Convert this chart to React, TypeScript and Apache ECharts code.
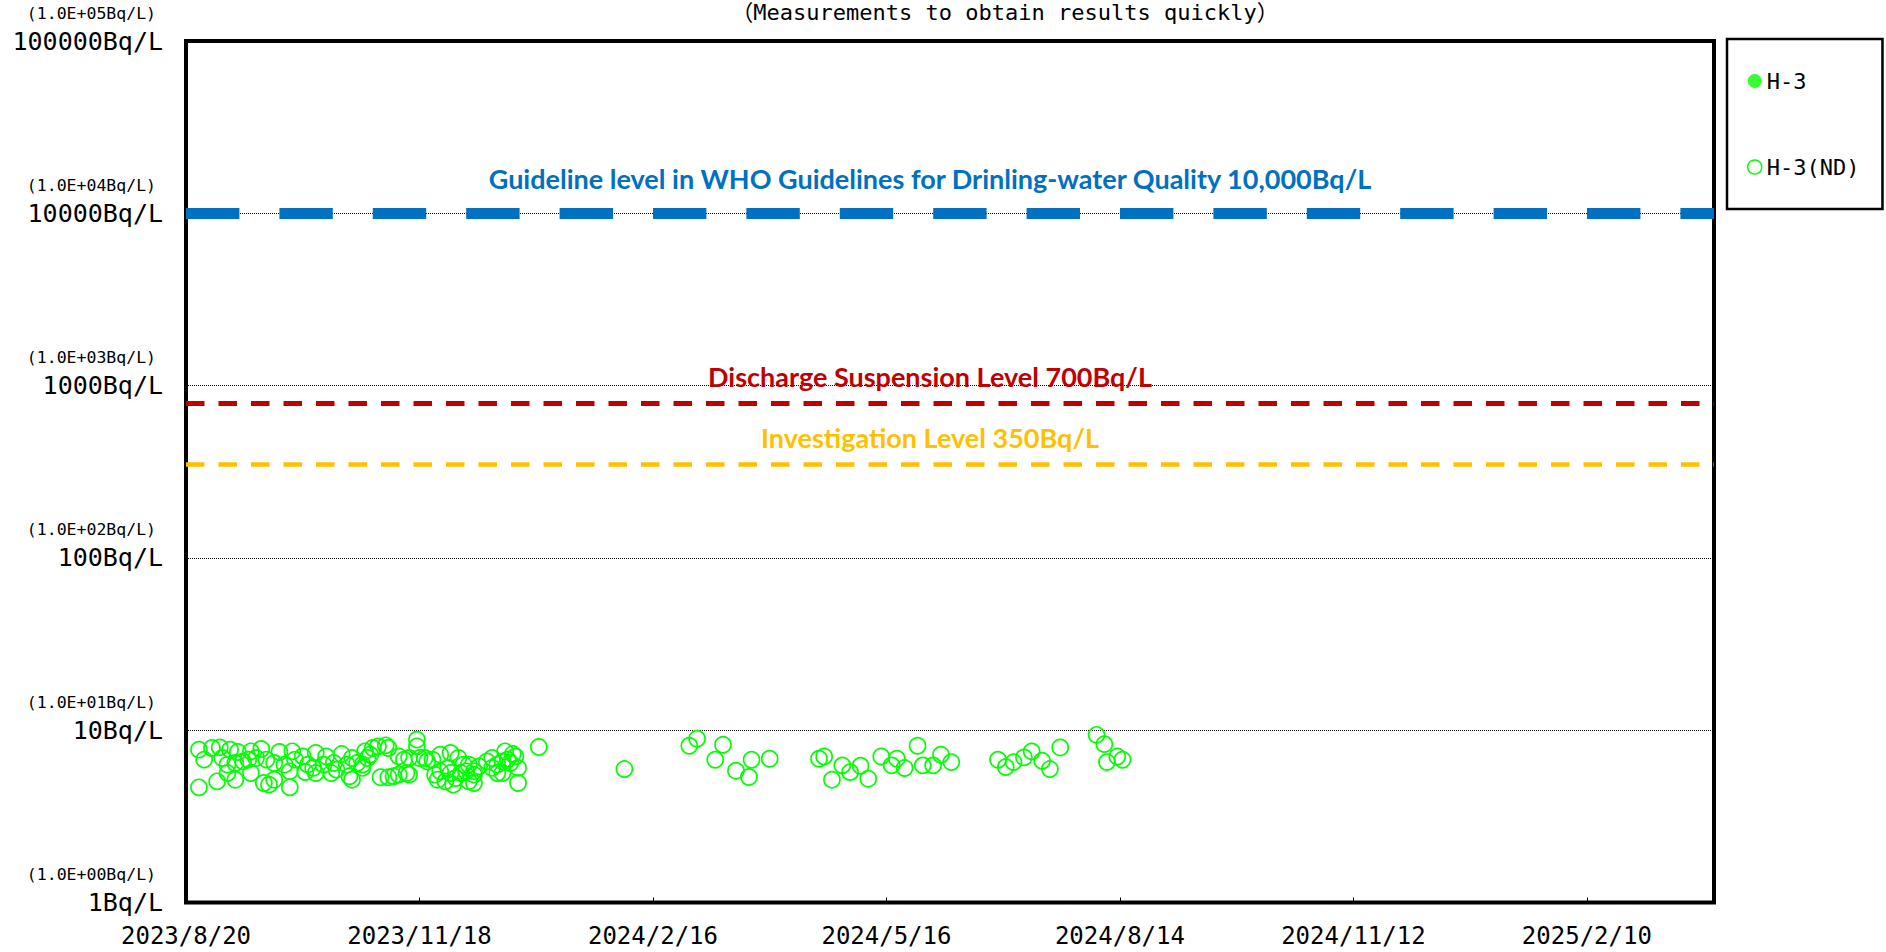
import React, { useEffect, useRef } from 'react';
import * as echarts from 'echarts';

// ---------- data ----------
const BASE_DATE = '2023/8/20';
const X_MAX_DATE = '2025/3/31';
const X_TICK_DAYS = 90;

const Y_MIN = 1;
const Y_MAX = 100000;

const titleText = '（Measurements to obtain results quickly）';

const seriesNames = ['H-3', 'H-3(ND)'];

// detected values (none in this period)
const h3Dates: string[] = [];
const h3Values: number[] = [];

// ND (below detection limit) values
const h3NdDates: string[] = [
  '2023/8/25', '2023/8/25', '2023/8/27', '2023/8/30', '2023/9/1', '2023/9/2', '2023/9/3', '2023/9/5',
  '2023/9/5', '2023/9/6', '2023/9/8', '2023/9/8', '2023/9/9', '2023/9/11', '2023/9/13', '2023/9/14',
  '2023/9/14', '2023/9/16', '2023/9/18', '2023/9/19', '2023/9/20', '2023/9/21', '2023/9/23', '2023/9/23',
  '2023/9/25', '2023/9/27', '2023/9/29', '2023/9/29', '2023/9/30', '2023/10/1', '2023/10/4', '2023/10/5',
  '2023/10/6', '2023/10/8', '2023/10/9', '2023/10/9', '2023/10/12', '2023/10/13', '2023/10/15', '2023/10/16',
  '2023/10/17', '2023/10/19', '2023/10/21', '2023/10/22', '2023/10/23', '2023/10/23', '2023/10/25', '2023/10/27',
  '2023/10/27', '2023/10/28', '2023/10/29', '2023/10/30', '2023/10/31', '2023/11/2', '2023/11/3', '2023/11/5',
  '2023/11/6', '2023/11/6', '2023/11/8', '2023/11/10', '2023/11/10', '2023/11/12', '2023/11/13', '2023/11/14',
  '2023/11/14', '2023/11/17', '2023/11/17', '2023/11/18', '2023/11/20', '2023/11/21', '2023/11/23', '2023/11/24',
  '2023/11/25', '2023/11/26', '2023/11/26', '2023/11/28', '2023/11/29', '2023/11/30', '2023/11/30', '2023/12/1',
  '2023/12/2', '2023/12/3', '2023/12/4', '2023/12/5', '2023/12/6', '2023/12/7', '2023/12/7', '2023/12/9',
  '2023/12/9', '2023/12/9', '2023/12/11', '2023/12/14', '2023/12/16', '2023/12/16', '2023/12/18', '2023/12/18',
  '2023/12/20', '2023/12/20', '2023/12/21', '2023/12/22', '2023/12/23', '2023/12/24', '2023/12/25', '2023/12/26',
  '2023/12/26', '2024/1/3', '2024/2/5', '2024/3/1', '2024/3/4', '2024/3/11', '2024/3/14', '2024/3/19',
  '2024/3/24', '2024/3/25', '2024/4/1', '2024/4/20', '2024/4/22', '2024/4/25', '2024/4/29', '2024/5/2',
  '2024/5/6', '2024/5/9', '2024/5/14', '2024/5/18', '2024/5/20', '2024/5/23', '2024/5/28', '2024/5/30',
  '2024/6/3', '2024/6/6', '2024/6/10', '2024/6/28', '2024/7/1', '2024/7/4', '2024/7/8', '2024/7/11',
  '2024/7/15', '2024/7/18', '2024/7/22', '2024/8/5', '2024/8/8', '2024/8/9', '2024/8/13', '2024/8/15',
];
const h3NdValues: number[] = [
  7.71, 4.66, 6.75, 7.88, 5.05, 7.95, 6.90, 6.31,
  5.64, 7.71, 5.16, 6.45, 7.47, 6.59, 6.75, 5.64,
  7.54, 6.90, 7.78, 4.94, 6.75, 4.83, 6.45, 5.16,
  7.47, 6.31, 5.77, 4.66, 7.54, 6.75, 7.05, 5.72,
  6.31, 6.04, 7.37, 5.64, 6.31, 7.05, 5.64, 6.45,
  5.90, 7.27, 6.31, 5.40, 6.90, 5.16, 6.45, 6.04,
  6.31, 7.54, 6.90, 7.21, 7.88, 8.06, 5.33, 8.17,
  7.88, 5.33, 5.40, 5.52, 7.05, 6.75, 5.64, 6.90,
  5.52, 8.81, 8.06, 6.90, 6.90, 6.59, 6.75, 5.52,
  5.16, 7.21, 5.77, 5.05, 6.04, 7.37, 5.64, 4.83,
  5.28, 6.90, 5.64, 6.31, 5.77, 6.31, 5.05, 5.77,
  4.94, 5.52, 6.17, 6.59, 6.90, 6.04, 6.31, 5.64,
  5.64, 6.59, 7.54, 6.75, 6.45, 7.27, 7.05, 6.04,
  4.94, 7.99, 5.95, 8.12, 8.92, 6.74, 8.23, 5.82,
  5.35, 6.74, 6.83, 6.83, 7.04, 5.16, 6.25, 5.71,
  6.22, 5.23, 7.04, 6.25, 6.83, 6.03, 8.12, 6.25,
  6.25, 7.20, 6.53, 6.74, 6.11, 6.53, 6.95, 7.53,
  6.65, 5.95, 7.94, 9.40, 8.30, 6.53, 7.04, 6.74,
];

// reference levels
const guidelineLevel = 10000;
const dischargeLineLevel = 790; // where the 700 Bq/L line is drawn in the figure
const investigationLevel = 350;

const guidelineLabel = 'Guideline level in WHO Guidelines for Drinling-water Quality 10,000Bq/L';
const dischargeLabel = 'Discharge Suspension Level 700Bq/L';
const investigationLabel = 'Investigation Level 350Bq/L';

// ---------- helpers ----------
const DAY_MS = 86400000;
const toUTC = (s: string) => {
  const [y, m, d] = s.split('/').map(Number);
  return Date.UTC(y, m - 1, d);
};
const toDay = (s: string) => (toUTC(s) - toUTC(BASE_DATE)) / DAY_MS;
const fmtDay = (v: number) => {
  const dt = new Date(toUTC(BASE_DATE) + Math.round(v) * DAY_MS);
  return `${dt.getUTCFullYear()}/${dt.getUTCMonth() + 1}/${dt.getUTCDate()}`;
};

const MONO = '"DejaVu Sans Mono", "Noto Sans Mono CJK JP", "Noto Sans CJK JP", monospace';
const LABEL_FONT = 'Lato, "Noto Sans", sans-serif';
const GREEN = '#00FF00';

export default function App() {
  const ref = useRef<HTMLDivElement>(null);

  useEffect(() => {
    if (!ref.current) return;
    const chart = echarts.init(ref.current, undefined, { renderer: 'svg' });

    const ndData = h3NdDates.map((d, i) => [toDay(d), h3NdValues[i]]);
    const detData = h3Dates.map((d, i) => [toDay(d), h3Values[i]]);

    chart.setOption({
      animation: false,
      backgroundColor: '#ffffff',
      grid: {
        left: 186,
        right: 172,
        top: 41,
        bottom: 49.5,
        show: true,
        borderColor: '#000',
        borderWidth: 4,
        backgroundColor: 'transparent',
      },
      legend: {
        orient: 'vertical',
        left: 1727,
        top: 39,
        padding: [31, 23, 31, 20],
        itemGap: 64,
        itemWidth: 14,
        itemHeight: 14,
        borderColor: '#000',
        borderWidth: 2.5,
        selectedMode: false,
        textStyle: { fontFamily: MONO, fontSize: 22, color: '#000' },
        data: [
          { name: seriesNames[0], icon: 'circle', itemStyle: { color: GREEN, borderWidth: 0 } },
          {
            name: seriesNames[1],
            icon: 'circle',
            itemStyle: { color: 'rgba(0,0,0,0)', borderColor: GREEN, borderWidth: 1.5 },
          },
        ],
      },
      xAxis: {
        type: 'value',
        min: 0,
        max: toDay(X_MAX_DATE),
        interval: X_TICK_DAYS,
        axisLine: { show: false },
        axisTick: { show: true, inside: true, length: 5, lineStyle: { color: '#000', width: 1 } },
        splitLine: { show: false },
        axisLabel: {
          show: true,
          margin: 21,
          showMaxLabel: false,
          fontFamily: MONO,
          fontSize: 24,
          color: '#000',
          formatter: (v: number) => fmtDay(v),
        },
      },
      yAxis: {
        type: 'log',
        logBase: 10,
        min: Y_MIN,
        max: Y_MAX,
        axisLine: { show: false },
        axisTick: { show: false },
        splitLine: { show: true, lineStyle: { color: '#000', width: 1, type: [1, 1] } },
        axisLabel: {
          show: true,
          margin: 23,
          align: 'right',
          verticalAlign: 'middle',
          formatter: (v: number) => {
            const e = Math.round(Math.log10(v));
            const small = `(1.0E+${String(e).padStart(2, '0')}Bq/L)`;
            const big = `${Math.round(v)}Bq/L`;
            return `{s|${small}}\n{b|${big}}\n{s| }`;
          },
          rich: {
            s: { fontFamily: MONO, fontSize: 16.5, lineHeight: 24, color: '#000', padding: [0, 7, 0, 0] },
            b: { fontFamily: MONO, fontSize: 25, lineHeight: 32, color: '#000' },
          },
        },
      },
      series: [
        {
          name: seriesNames[0],
          type: 'scatter',
          symbol: 'circle',
          symbolSize: 16,
          itemStyle: { color: GREEN },
          data: detData,
        },
        {
          name: seriesNames[1],
          type: 'scatter',
          symbol: 'circle',
          symbolSize: 16,
          itemStyle: { color: 'rgba(0,0,0,0)', borderColor: GREEN, borderWidth: 1.7, opacity: 1 },
          emphasis: { disabled: true },
          data: ndData,
          markLine: {
            silent: true,
            symbol: ['none', 'none'],
            label: { show: false },
            emphasis: { disabled: true },
            data: [
              { yAxis: guidelineLevel, lineStyle: { color: '#0070C0', width: 11, type: [53.4, 40], cap: 'butt' } },
              { yAxis: dischargeLineLevel, lineStyle: { color: '#C00000', width: 5, type: [18.5, 14], cap: 'butt' } },
              { yAxis: investigationLevel, lineStyle: { color: '#FFC000', width: 4.5, type: [18.5, 14], cap: 'butt' } },
            ],
          },
        },
      ],
    });

    const yPix = (v: number) => chart.convertToPixel({ gridIndex: 0 }, [0, v])[1] as number;
    const labelStyle = (text: string, fill: string) => ({
      text,
      fill,
      fontFamily: LABEL_FONT,
      fontWeight: 'bold',
      fontSize: 27,
      align: 'center',
      verticalAlign: 'middle',
    });
    const labelX = 930;

    chart.setOption({
      graphic: [
        {
          type: 'text',
          x: 1005,
          y: 12,
          silent: true,
          style: {
            text: titleText,
            fill: '#000',
            fontFamily: MONO,
            fontSize: 22,
            align: 'center',
            verticalAlign: 'middle',
          },
        },
        { type: 'text', x: labelX, y: yPix(guidelineLevel) - 35, silent: true, style: labelStyle(guidelineLabel, '#0070C0') },
        { type: 'text', x: labelX, y: yPix(dischargeLineLevel) - 27, silent: true, style: labelStyle(dischargeLabel, '#C00000') },
        { type: 'text', x: labelX, y: yPix(investigationLevel) - 27, silent: true, style: labelStyle(investigationLabel, '#FFC000') },
      ],
    });

    return () => chart.dispose();
  }, []);

  return (
    <div
      ref={ref}
      style={{ position: 'fixed', left: 0, top: 0, width: 1886, height: 952, background: '#fff' }}
    />
  );
}
